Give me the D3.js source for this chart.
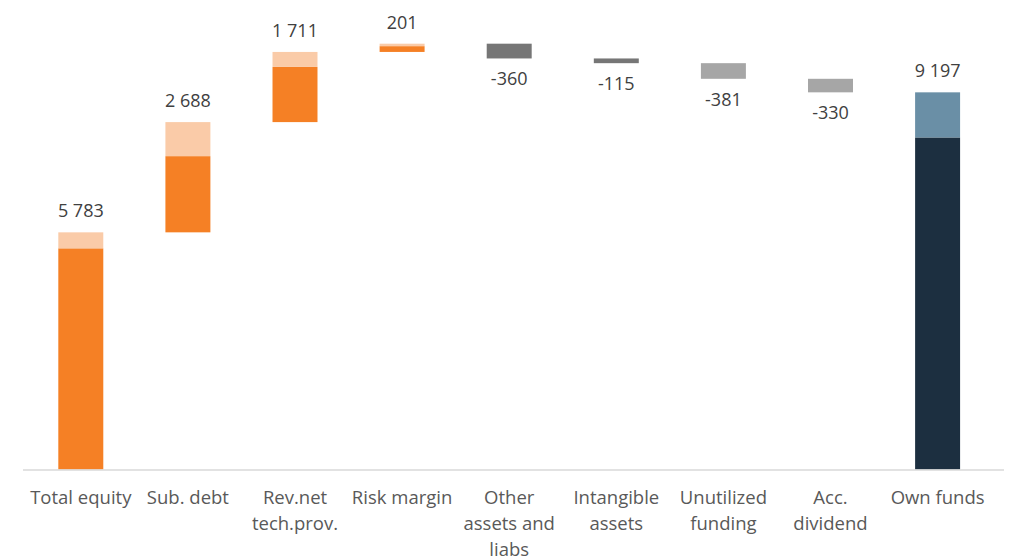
<!DOCTYPE html>
<html>
<head>
<meta charset="utf-8">
<script src="https://cdn.jsdelivr.net/npm/d3@7"></script>
<style>
  html, body { margin: 0; padding: 0; background: #ffffff; }
  svg { display: block; }
</style>
</head>
<body>
<svg id="chart" width="1020" height="558"></svg>
<script>
// ---- data ----
const categories = ["Total equity", "Sub. debt", "Rev.net tech.prov.", "Risk margin",
  "Other assets and liabs", "Intangible assets", "Unutilized funding", "Acc. dividend", "Own funds"];
const tickLabels = [["Total equity"], ["Sub. debt"], ["Rev.net", "tech.prov."], ["Risk margin"],
  ["Other", "assets and", "liabs"], ["Intangible", "assets"], ["Unutilized", "funding"], ["Acc.", "dividend"], ["Own funds"]];
const values = [5783, 2688, 1711, 201, -360, -115, -381, -330, 9197];
// upper (light) part of the positive bars
const upperPart = [390, 830, 365, 60, 0, 0, 0, 0, 1100];
const kinds = ["pos", "pos", "pos", "pos", "negDark", "negDark", "negLight", "negLight", "total"];
const valueLabels = ["5 783", "2 688", "1 711", "201", "-360", "-115", "-381", "-330", "9 197"];

// ---- layout ----
const svg = d3.select("#chart");
const baseY = 469.5;
const x = d3.scaleBand().domain(categories).range([27.25, 991.15]).paddingInner(0.58).paddingOuter(0.29);
const y = d3.scaleLinear().domain([0, 11000]).range([baseY, baseY - 11000 * 0.04101]);

const colors = {
  posDark: "#F58025", posLight: "#FACBA8",
  totDark: "#1C2F40", totLight: "#6A8FA6",
  negDark: "#767676", negLight: "#A6A6A6"
};

// build segments
let cum = 0;
const segs = [];
const labels = [];
values.forEach((v, i) => {
  const c = categories[i];
  const k = kinds[i];
  if (k === "pos" || k === "total") {
    const base = k === "total" ? 0 : cum;
    const top = k === "total" ? v : cum + v;
    const mid = top - upperPart[i];
    segs.push({ c, y0: base, y1: mid, fill: k === "total" ? colors.totDark : colors.posDark });
    segs.push({ c, y0: mid, y1: top, fill: k === "total" ? colors.totLight : colors.posLight });
    labels.push({ c, text: valueLabels[i], y: y(top) - 15 });
    if (k === "pos") cum = top;
  } else {
    const top = cum, bot = cum + v;
    segs.push({ c, y0: bot, y1: top, fill: colors[k] });
    labels.push({ c, text: valueLabels[i], y: y(bot) + 27 });
    cum = bot;
  }
});

svg.append("g").selectAll("rect").data(segs).join("rect")
  .attr("x", d => x(d.c))
  .attr("width", x.bandwidth())
  .attr("y", d => y(d.y1))
  .attr("height", d => y(d.y0) - y(d.y1))
  .attr("fill", d => d.fill);

// axis line
svg.append("line")
  .attr("x1", 23).attr("x2", 1004)
  .attr("y1", baseY + 0.5).attr("y2", baseY + 0.5)
  .attr("stroke", "#D9D9D9").attr("stroke-width", 1.5);

// category axis labels
const axis = d3.axisBottom(x).tickSize(0).tickPadding(0);
const gx = svg.append("g").attr("transform", `translate(0,${baseY})`).call(axis);
gx.select(".domain").remove();
gx.selectAll(".tick text").each(function(d, i) {
  const t = d3.select(this);
  t.text(null).attr("y", 0).attr("dy", null)
    .attr("font-family", "'Open Sans', sans-serif")
    .attr("font-size", 18.5)
    .attr("fill", "#595959");
  tickLabels[i].forEach((line, j) => {
    t.append("tspan").attr("x", 0).attr("y", 34.5 + j * 25.8).text(line);
  });
});

// value labels
svg.append("g").selectAll("text").data(labels).join("text")
  .attr("x", d => x(d.c) + x.bandwidth() / 2)
  .attr("y", d => d.y)
  .attr("text-anchor", "middle")
  .attr("font-family", "'Open Sans', sans-serif")
  .attr("font-size", 18)
  .attr("fill", "#404040")
  .text(d => d.text);
</script>
</body>
</html>
